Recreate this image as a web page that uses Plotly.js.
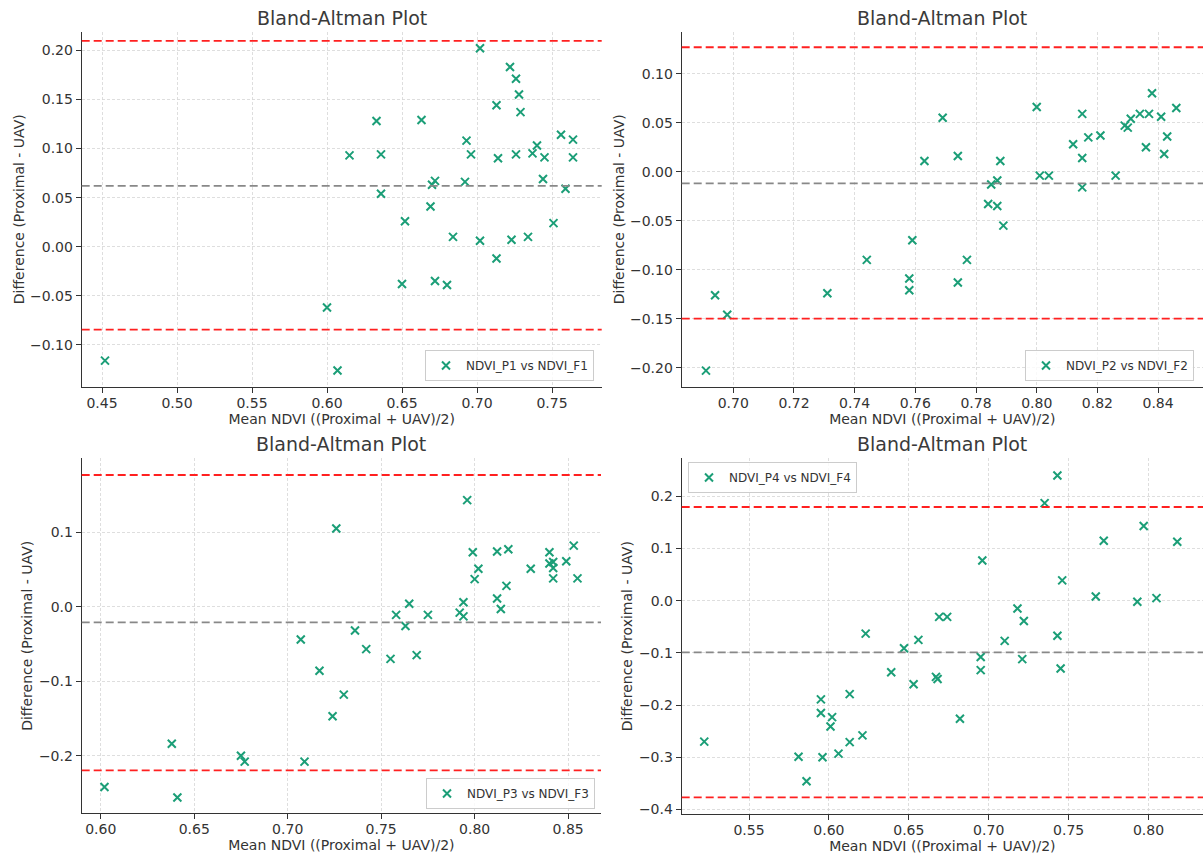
<!DOCTYPE html>
<html>
<head>
<meta charset="utf-8">
<script src="https://cdn.plot.ly/plotly-3.0.1.min.js"></script>
<style>
  html, body { margin: 0; padding: 0; background: #ffffff; }
  #chart { width: 1203px; height: 856px; }
</style>
</head>
<body>
<div id="chart"></div>
<script>
// Bland-Altman comparison of proximal vs UAV NDVI, four sensor pairs

const seriesNames = ["NDVI_P1 vs NDVI_F1", "NDVI_P2 vs NDVI_F2", "NDVI_P3 vs NDVI_F3", "NDVI_P4 vs NDVI_F4"];

// Pair 1: mean NDVI and difference
const mean1 = [0.452, 0.600, 0.607, 0.702, 0.722, 0.726, 0.728, 0.729, 0.713, 0.633,
               0.663, 0.693, 0.615, 0.636, 0.696, 0.714, 0.726, 0.737, 0.740, 0.745,
               0.756, 0.764, 0.764, 0.744, 0.759, 0.636, 0.670, 0.672, 0.692, 0.669,
               0.652, 0.684, 0.702, 0.723, 0.734, 0.751, 0.713, 0.650, 0.672, 0.680];
const diff1 = [-0.116, -0.062, -0.126, 0.202, 0.183, 0.171, 0.155, 0.137, 0.144, 0.128,
               0.129, 0.108, 0.093, 0.094, 0.094, 0.090, 0.094, 0.095, 0.103, 0.091,
               0.114, 0.109, 0.091, 0.069, 0.059, 0.054, 0.063, 0.067, 0.066, 0.041,
               0.026, 0.010, 0.006, 0.007, 0.010, 0.024, -0.012, -0.038, -0.035, -0.039];

// Pair 2
const mean2 = [0.691, 0.694, 0.698, 0.731, 0.744, 0.759, 0.758, 0.758, 0.763, 0.769,
               0.774, 0.777, 0.774, 0.788, 0.787, 0.785, 0.784, 0.787, 0.789, 0.800,
               0.801, 0.804, 0.815, 0.812, 0.817, 0.815, 0.815, 0.821, 0.826, 0.829,
               0.830, 0.831, 0.834, 0.837, 0.838, 0.836, 0.841, 0.843, 0.842, 0.846];
const diff2 = [-0.203, -0.126, -0.146, -0.124, -0.090, -0.070, -0.109, -0.121, 0.011, 0.055,
               0.016, -0.090, -0.113, 0.011, -0.009, -0.013, -0.033, -0.035, -0.055, 0.066,
               -0.004, -0.004, 0.059, 0.028, 0.035, 0.014, -0.016, 0.037, -0.004, 0.047,
               0.045, 0.054, 0.059, 0.059, 0.080, 0.025, 0.056, 0.036, 0.018, 0.065];

// Pair 3
const mean3 = [0.602, 0.641, 0.638, 0.675, 0.677, 0.709, 0.707, 0.717, 0.724, 0.726,
               0.730, 0.736, 0.742, 0.755, 0.769, 0.758, 0.765, 0.763, 0.775, 0.792,
               0.794, 0.794, 0.796, 0.799, 0.802, 0.800, 0.812, 0.818, 0.812, 0.814,
               0.817, 0.830, 0.840, 0.840, 0.842, 0.842, 0.842, 0.849, 0.853, 0.855];
const diff3 = [-0.242, -0.256, -0.184, -0.200, -0.208, -0.208, -0.044, -0.086, -0.147, 0.105,
               -0.118, -0.032, -0.057, -0.070, -0.065, -0.011, 0.004, -0.026, -0.011, -0.008,
               0.006, -0.013, 0.143, 0.073, 0.051, 0.037, 0.074, 0.077, 0.011, -0.003,
               0.028, 0.051, 0.073, 0.058, 0.060, 0.052, 0.038, 0.061, 0.082, 0.038];

// Pair 4
const mean4 = [0.522, 0.581, 0.586, 0.596, 0.595, 0.595, 0.602, 0.601, 0.606, 0.613,
               0.613, 0.621, 0.623, 0.639, 0.647, 0.656, 0.653, 0.667, 0.668, 0.669,
               0.674, 0.682, 0.696, 0.695, 0.695, 0.710, 0.718, 0.722, 0.721, 0.735,
               0.743, 0.743, 0.745, 0.746, 0.767, 0.772, 0.793, 0.797, 0.805, 0.818];
const diff4 = [-0.270, -0.299, -0.346, -0.300, -0.189, -0.215, -0.223, -0.241, -0.293, -0.179,
               -0.271, -0.258, -0.063, -0.137, -0.091, -0.075, -0.160, -0.146, -0.150, -0.031,
               -0.031, -0.226, 0.077, -0.108, -0.133, -0.077, -0.015, -0.039, -0.112, 0.187,
               0.240, -0.067, -0.130, 0.039, 0.008, 0.115, -0.002, 0.143, 0.005, 0.113];

// Bias and limits of agreement per pair
const biasLine  = [0.062, -0.012, -0.021, -0.099];
const upperLoA  = [0.2095, 0.127, 0.1768, 0.1795];
const lowerLoA  = [-0.0845, -0.150, -0.2196, -0.3766];

const means = [mean1, mean2, mean3, mean4];
const diffs = [diff1, diff2, diff3, diff4];

// Panel geometry (pixels of the 1203x856 canvas)
const W = 1203, H = 856;
const panels = [
  { l: 81.7,  r: 601.7, t: 31.7,  b: 386.7, xr: [0.43647, 0.78313], yr: [-0.14257, 0.21894], xd: 0.05, yd: 0.05, yf: ".2f", xf: ".2f",
    leg: { x: 594 / W, y: 1 - 381 / H, xanchor: "right", yanchor: "bottom" } },
  { l: 681.7, r: 1203,  t: 31.7,  b: 386.7, xr: [0.6830, 0.8548],   yr: [-0.21939, 0.14286], xd: 0.02, yd: 0.05, yf: ".2f", xf: ".2f",
    leg: { x: 1194 / W, y: 1 - 381 / H, xanchor: "right", yanchor: "bottom" } },
  { l: 81.7,  r: 601,   t: 458.3, b: 813.3, xr: [0.58982, 0.86758], yr: [-0.27732, 0.19919], xd: 0.05, yd: 0.1,  yf: ".1f", xf: ".2f",
    leg: { x: 595 / W, y: 1 - 809 / H, xanchor: "right", yanchor: "bottom" } },
  { l: 681.7, r: 1203,  t: 458.3, b: 814,   xr: [0.50788, 0.83411], yr: [-0.40862, 0.27280], xd: 0.05, yd: 0.1,  yf: ".1f", xf: ".2f",
    leg: { x: 688 / W, y: 1 - 462 / H, xanchor: "left", yanchor: "top" } }
];

const textColor = "#333333";
const fontFamily = "DejaVu Sans, Liberation Sans, sans-serif";
const markerColor = "#1b9e77";

const data = [];
const shapes = [];
const annotations = [];
const layout = {
  width: W, height: H,
  margin: { l: 0, r: 0, t: 0, b: 0 },
  paper_bgcolor: "#ffffff",
  plot_bgcolor: "#ffffff",
  font: { family: fontFamily, size: 14, color: textColor },
  showlegend: true
};

panels.forEach((p, i) => {
  const n = i + 1;
  const xName = n === 1 ? "x" : "x" + n;
  const yName = n === 1 ? "y" : "y" + n;
  const xKey = n === 1 ? "xaxis" : "xaxis" + n;
  const yKey = n === 1 ? "yaxis" : "yaxis" + n;
  const legKey = n === 1 ? "legend" : "legend" + n;

  data.push({
    type: "scatter",
    mode: "markers",
    name: seriesNames[i],
    x: means[i],
    y: diffs[i],
    xaxis: xName,
    yaxis: yName,
    legend: legKey,
    marker: { symbol: "x-thin", size: 8, color: markerColor, line: { width: 2, color: markerColor } },
    hoverinfo: "x+y"
  });

  const axisCommon = {
    showline: true, linecolor: "#333333", linewidth: 1, mirror: false,
    ticks: "outside", ticklen: 5, tickwidth: 1, tickcolor: "#333333",
    showgrid: true, gridcolor: "#d6d6d6", gridwidth: 0.8, griddash: "3px,2px",
    zeroline: false,
    tickfont: { family: fontFamily, size: 14, color: textColor }
  };

  layout[xKey] = Object.assign({}, axisCommon, {
    domain: [p.l / W, p.r / W],
    anchor: yName,
    range: p.xr,
    dtick: p.xd,
    tick0: 0,
    tickformat: p.xf,
    ticklabelstandoff: -2,
    title: { text: "Mean NDVI ((Proximal + UAV)/2)", font: { family: fontFamily, size: 14, color: textColor }, standoff: 4 }
  });
  layout[yKey] = Object.assign({}, axisCommon, {
    domain: [1 - p.b / H, 1 - p.t / H],
    anchor: xName,
    range: p.yr,
    dtick: p.yd,
    tick0: 0,
    tickformat: p.yf,
    title: { text: "Difference (Proximal - UAV)", font: { family: fontFamily, size: 14, color: textColor }, standoff: 2 }
  });

  layout[legKey] = Object.assign({
    bgcolor: "rgba(255,255,255,0.8)",
    bordercolor: "#cccccc",
    borderwidth: 1,
    font: { family: fontFamily, size: 12, color: textColor },
    xref: "paper", yref: "paper"
  }, p.leg);

  const lines = [
    { v: upperLoA[i], c: "#ff2020" },
    { v: biasLine[i], c: "#888888" },
    { v: lowerLoA[i], c: "#ff2020" }
  ];
  lines.forEach(ln => {
    shapes.push({
      type: "line",
      xref: xName + " domain", yref: yName,
      x0: 0, x1: 1, y0: ln.v, y1: ln.v,
      line: { color: ln.c, width: 1.8, dash: "8px,4px" },
      layer: "above"
    });
  });

  annotations.push({
    text: "Bland-Altman Plot",
    xref: "paper", yref: "paper",
    x: ((p.l + p.r) / 2) / W,
    y: 1 - p.t / H,
    xanchor: "center", yanchor: "bottom",
    yshift: 1,
    showarrow: false,
    font: { family: fontFamily, size: 19, color: "#3a3a3a" }
  });
});

layout.shapes = shapes;
layout.annotations = annotations;

Plotly.newPlot("chart", data, layout, { staticPlot: true, displayModeBar: false });
</script>
</body>
</html>
